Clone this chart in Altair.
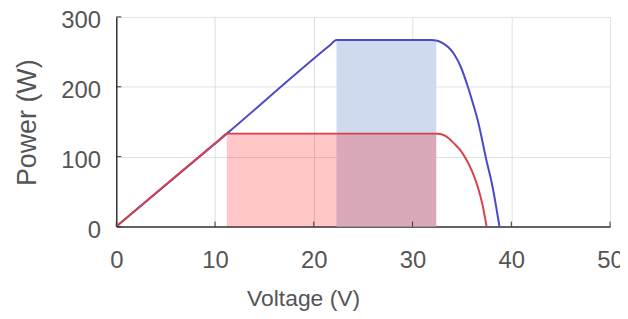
import altair as alt
import pandas as pd

# Blue curve (higher irradiance)
blue_v = [0, 11.2, 21.6, 22.3, 31.9, 32.5, 33.0, 33.6, 34.2, 34.9, 35.6, 36.1, 36.6, 37.0, 37.4, 38.1, 38.8]
blue_p = [0, 133, 259, 267, 267, 266, 263, 257, 247, 228, 200, 177, 152, 127, 100, 57, 0]
# Red curve (lower irradiance)
red_v = [0, 10.6, 11.2, 32.3, 32.8, 33.4, 34.2, 34.8, 35.4, 36.0, 36.6, 37.1, 37.5]
red_p = [0, 126, 133, 133, 132.5, 129, 119, 110, 97, 80, 57, 30, 0]

# Shaded regions
blue_rect = {"v0": 22.3, "v1": 32.4, "p0": 0, "p1": 267}
red_rect = {"v0": 11.2, "v1": 32.4, "p0": 0, "p1": 133}

x_ticks = [0, 10, 20, 30, 40, 50]
y_ticks = [0, 100, 200, 300]

W, H = 497, 211

xs = alt.Scale(domain=[0, 50], nice=False)
ys = alt.Scale(domain=[0, 300], nice=False)

xaxis = alt.Axis(values=x_ticks, title="Voltage (V)", titleX=188, titleY=72,
                 titleBaseline="middle", titleAlign="center", labelPadding=22,
                 labelFlush=False, titleFontSize=23)
yaxis = alt.Axis(values=y_ticks, title="Power (W)", titleX=-89, titleY=106,
                 titleAngle=-90, titleBaseline="middle", titleAlign="center",
                 labelPadding=16, titleFontSize=27, labelOffset=4, labelFlush=False)

brect = alt.Chart(pd.DataFrame([blue_rect])).mark_rect(color="#cfd9ef").encode(
    x=alt.X("v0:Q", scale=xs, axis=xaxis), x2="v1:Q",
    y=alt.Y("p0:Q", scale=ys, axis=yaxis), y2="p1:Q")
rrect = alt.Chart(pd.DataFrame([red_rect])).mark_rect(color="#ff0000", opacity=0.22).encode(
    x=alt.X("v0:Q", scale=xs), x2="v1:Q",
    y=alt.Y("p0:Q", scale=ys), y2="p1:Q")

bline = alt.Chart(pd.DataFrame({"v": blue_v, "p": blue_p})).mark_line(
    color="#4a4ac8", strokeWidth=2, interpolate="monotone").encode(
    x=alt.X("v:Q", scale=xs), y=alt.Y("p:Q", scale=ys))
rline = alt.Chart(pd.DataFrame({"v": red_v, "p": red_p})).mark_line(
    color="#d8404a", strokeWidth=2, interpolate="monotone").encode(
    x=alt.X("v:Q", scale=xs), y=alt.Y("p:Q", scale=ys))

xt = alt.Chart(pd.DataFrame({"v": x_ticks})).mark_rule(color="#333333", strokeWidth=1).encode(
    x=alt.X("v:Q", scale=xs), y=alt.value(H), y2=alt.value(H - 5))
yt = alt.Chart(pd.DataFrame({"p": y_ticks})).mark_rule(color="#333333", strokeWidth=1).encode(
    y=alt.Y("p:Q", scale=ys), x=alt.value(0), x2=alt.value(5))

chart = alt.layer(brect, rrect, bline, rline, xt, yt).properties(
    width=W, height=H,
    autosize=alt.AutoSizeParams(type="none"),
    padding={"left": 109, "top": 8, "right": 10, "bottom": 84},
).configure_view(stroke=None).configure_axis(
    grid=True, gridColor="#cccccc", gridOpacity=0.6, gridWidth=1,
    domainColor="#333333", domainWidth=1.5, tickSize=0,
    labelFont="Liberation Sans", labelFontSize=24, labelColor="#555555",
    titleFont="Liberation Sans", titleFontSize=24, titleColor="#555555",
    titleFontWeight="normal", zindex=1,
)

chart.save("out.html", embed_options={"renderer": "svg", "actions": False})
